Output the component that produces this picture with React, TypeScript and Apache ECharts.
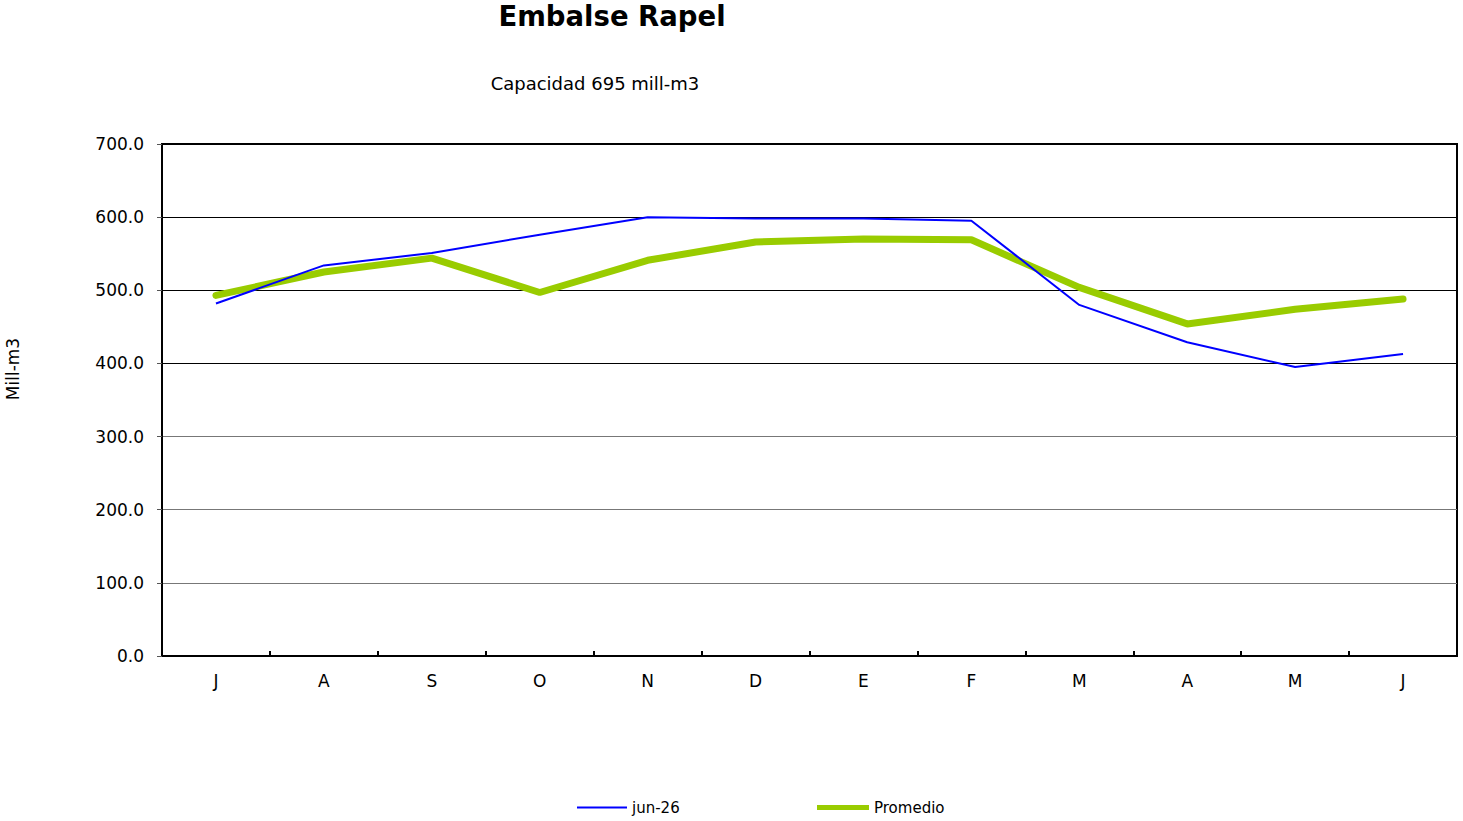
import React, { useEffect, useRef } from "react";
import * as echarts from "echarts";

const categories = ["J", "A", "S", "O", "N", "D", "E", "F", "M", "A", "M", "J"];
const seriesJun26 = [482, 534, 551, 576, 600, 598, 598, 595, 480, 429, 395, 413];
const seriesPromedio = [493, 525, 544, 497, 541, 566, 570, 569, 504, 454, 474, 488];
const yMin = 0;
const yMax = 700;
const yInterval = 100;

const FONT = "'DejaVu Sans', 'Liberation Sans', Arial, sans-serif";

export default function App() {
  const ref = useRef<HTMLDivElement>(null);
  useEffect(() => {
    document.body.style.margin = "0";
    if (!ref.current) return;
    const chart = echarts.init(ref.current, null, { renderer: "svg" });
    chart.setOption({
      animation: false,
      backgroundColor: "#ffffff",
      textStyle: { fontFamily: FONT },
      graphic: [
        {
          type: "text",
          x: 612,
          y: 16,
          style: {
            text: "Embalse Rapel",
            fontFamily: FONT,
            fontSize: 27.5,
            fontWeight: "bold",
            fill: "#000",
            align: "center",
            verticalAlign: "middle",
          },
        },
        {
          type: "text",
          x: 595,
          y: 83,
          style: {
            text: "Capacidad 695 mill-m3",
            fontFamily: FONT,
            fontSize: 18,
            fill: "#000",
            align: "center",
            verticalAlign: "middle",
          },
        },
        {
          type: "text",
          x: 13,
          y: 369,
          rotation: Math.PI / 2,
          style: {
            text: "Mill-m3",
            fontFamily: FONT,
            fontSize: 17,
            fill: "#000",
            align: "center",
            verticalAlign: "middle",
          },
        },
      ],
      legend: [
        {
          data: ["jun-26"],
          left: 577,
          top: 800,
          padding: 0,
          icon: "rect",
          itemWidth: 50,
          itemHeight: 2,
          textStyle: { fontFamily: FONT, fontSize: 15, color: "#000" },
        },
        {
          data: ["Promedio"],
          left: 817,
          top: 800,
          padding: 0,
          icon: "rect",
          itemWidth: 52,
          itemHeight: 5,
          textStyle: { fontFamily: FONT, fontSize: 15, color: "#000" },
        },
      ],
      grid: {
        left: 162,
        right: 6,
        top: 144,
        bottom: 165,
        show: true,
        borderColor: "#000",
        borderWidth: 2,
        backgroundColor: "transparent",
        containLabel: false,
        outerBoundsMode: "none",
      },
      xAxis: {
        type: "category",
        data: categories,
        boundaryGap: true,
        axisLine: { show: true, lineStyle: { color: "#000", width: 2 } },
        axisTick: { show: true, inside: true, length: 5, lineStyle: { color: "#000", width: 2 } },
        axisLabel: { color: "#000", fontSize: 17, fontFamily: FONT, margin: 16 },
        splitLine: { show: false },
      },
      yAxis: {
        type: "value",
        min: yMin,
        max: yMax,
        interval: yInterval,
        axisLine: { show: true, lineStyle: { color: "#000", width: 2 } },
        axisTick: { show: true, length: 5, lineStyle: { color: "#555", width: 1 } },
        axisLabel: {
          color: "#000",
          fontSize: 17,
          fontFamily: FONT,
          margin: 18,
          formatter: (v: number) => v.toFixed(1),
        },
        splitLine: {
          show: true,
          lineStyle: {
            color: ["#777", "#777", "#777", "#777", "#000", "#000", "#000", "#000"],
            width: 1,
          },
        },
      },
      series: [
        {
          name: "jun-26",
          type: "line",
          data: seriesJun26,
          symbol: "none",
          lineStyle: { color: "#0000ff", width: 2 },
          itemStyle: { color: "#0000ff" },
          z: 3,
        },
        {
          name: "Promedio",
          type: "line",
          data: seriesPromedio,
          symbol: "none",
          lineStyle: { color: "#99cc00", width: 7, cap: "round" },
          itemStyle: { color: "#99cc00" },
          z: 2,
        },
      ],
    });
    return () => chart.dispose();
  }, []);
  return (
    <div
      ref={ref}
      style={{ position: "fixed", left: 0, top: 0, width: 1463, height: 821 }}
    />
  );
}
